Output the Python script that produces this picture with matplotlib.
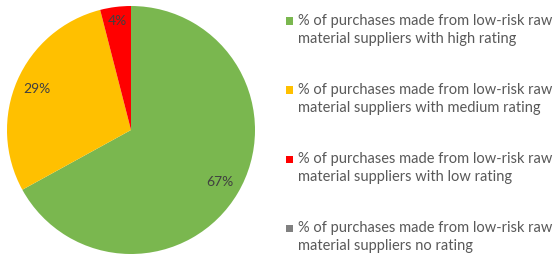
import matplotlib
matplotlib.use("Agg")
import matplotlib.pyplot as plt
from matplotlib.patches import Rectangle

plt.rcParams["font.family"] = ["Lato", "DejaVu Sans"]

labels = [
    "% of purchases made from low-risk raw\nmaterial suppliers with high rating",
    "% of purchases made from low-risk raw\nmaterial suppliers with medium rating",
    "% of purchases made from low-risk raw\nmaterial suppliers with low rating",
    "% of purchases made from low-risk raw\nmaterial suppliers no rating",
]
values = [67, 29, 4, 0]
colors = ["#7AB74F", "#FFC000", "#FF0000", "#808080"]
label_dist = [0.83, 0.83, 0.89, 0.83]

W, H = 553, 258


def fmt(p):
    return f"{p:.0f}%" if p >= 0.5 else ""


fig = plt.figure(figsize=(W / 100, H / 100), dpi=100)
ax = fig.add_axes([7 / W, 4 / H, 248 / W, 248 / H])
wedges, texts, autotexts = ax.pie(
    values,
    colors=colors,
    startangle=90,
    counterclock=False,
    autopct=fmt,
    pctdistance=1.0,
    textprops={"fontsize": 10, "color": "#404040"},
    wedgeprops={"linewidth": 0},
)
for t, d in zip(autotexts, label_dist):
    x, y = t.get_position()
    t.set_position((x * d, y * d))
ax.set_xlim(-1, 1)
ax.set_ylim(-1, 1)
ax.set_aspect("equal")

# legend drawn by hand: marker square + two-line label per entry
for i, (lab, c) in enumerate(zip(labels, colors)):
    first = 21 + i * 69
    fig.text(298 / W, 1 - (first + 9) / H, lab, fontsize=10.5, color="#595959",
             va="center", ha="left", linespacing=1.4)
    fig.add_artist(Rectangle((286 / W, 1 - (first + 3.5) / H), 7 / W, 7 / H,
                             transform=fig.transFigure, facecolor=c, edgecolor="none"))

fig.savefig("out.png", dpi=100)
